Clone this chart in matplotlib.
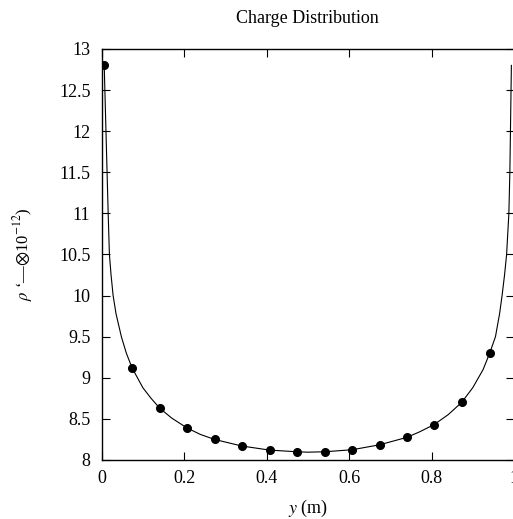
import numpy as np
import matplotlib
matplotlib.use('Agg')
import matplotlib.pyplot as plt

plt.rcParams['font.family'] = ['Liberation Serif', 'DejaVu Serif']
plt.rcParams['mathtext.fontset'] = 'stix'

# sampled charge points (markers)
pts_x = [0.0064, 0.0737, 0.1406, 0.2068, 0.274, 0.340, 0.408, 0.474,
         0.541, 0.6076, 0.674, 0.740, 0.806, 0.873, 0.9406]
pts_y = [12.80, 9.12, 8.63, 8.39, 8.25, 8.17, 8.12, 8.10,
         8.10, 8.125, 8.185, 8.275, 8.43, 8.70, 9.30]

# continuous curve
curve_x = [0.0064, 0.016, 0.019, 0.023, 0.028, 0.035, 0.048, 0.060, 0.074,
           0.100, 0.120, 0.141, 0.170, 0.207, 0.240, 0.274, 0.340, 0.408,
           0.474, 0.500, 0.541, 0.608, 0.674, 0.740, 0.770, 0.806, 0.840,
           0.873, 0.900, 0.925, 0.941, 0.955, 0.965, 0.971, 0.977, 0.982,
           0.9875, 0.990, 0.9936]
curve_y = [12.80, 11.00, 10.50, 10.25, 10.00, 9.78, 9.50, 9.30, 9.12,
           8.88, 8.75, 8.63, 8.51, 8.39, 8.31, 8.25, 8.17, 8.12,
           8.10, 8.095, 8.10, 8.125, 8.185, 8.275, 8.34, 8.43, 8.55,
           8.70, 8.88, 9.10, 9.30, 9.50, 9.78, 10.00, 10.25, 10.50,
           11.00, 11.53, 12.80]

x_ticks = [0, 0.2, 0.4, 0.6, 0.8, 1]
x_labels = ['0', '0.2', '0.4', '0.6', '0.8', '1']
y_ticks = [8, 8.5, 9, 9.5, 10, 10.5, 11, 11.5, 12, 12.5, 13]
y_labels = ['8', '8.5', '9', '9.5', '10', '10.5', '11', '11.5', '12', '12.5', '13']

fig = plt.figure(figsize=(5.13, 5.19), dpi=100)
ax = fig.add_axes([0.198, 0.1137, 0.804, 0.7919])

ax.plot(curve_x, curve_y, color='black', lw=0.8)
ax.plot(pts_x, pts_y, 'o', color='black', ms=5.5)

ax.set_xlim(0, 1)
ax.set_ylim(8, 13)
ax.set_xticks(x_ticks)
ax.set_xticklabels(x_labels)
ax.set_yticks(y_ticks)
ax.set_yticklabels(y_labels)
ax.tick_params(direction='in', length=6, width=0.8, labelsize=13,
               top=True, right=True)
ax.tick_params(axis='y', pad=8)
ax.tick_params(axis='x', pad=7)
for s in ax.spines.values():
    s.set_linewidth(1.0)

ax.set_title('Charge Distribution', fontsize=13, pad=18.5)
ax.set_xlabel('$y$ (m)', fontsize=13, labelpad=8)
ax.set_ylabel('$\\rho$ \u2018\u2014$\\otimes$10$^{-12}$)', fontsize=12, labelpad=17)

fig.savefig('out.png', dpi=100)
